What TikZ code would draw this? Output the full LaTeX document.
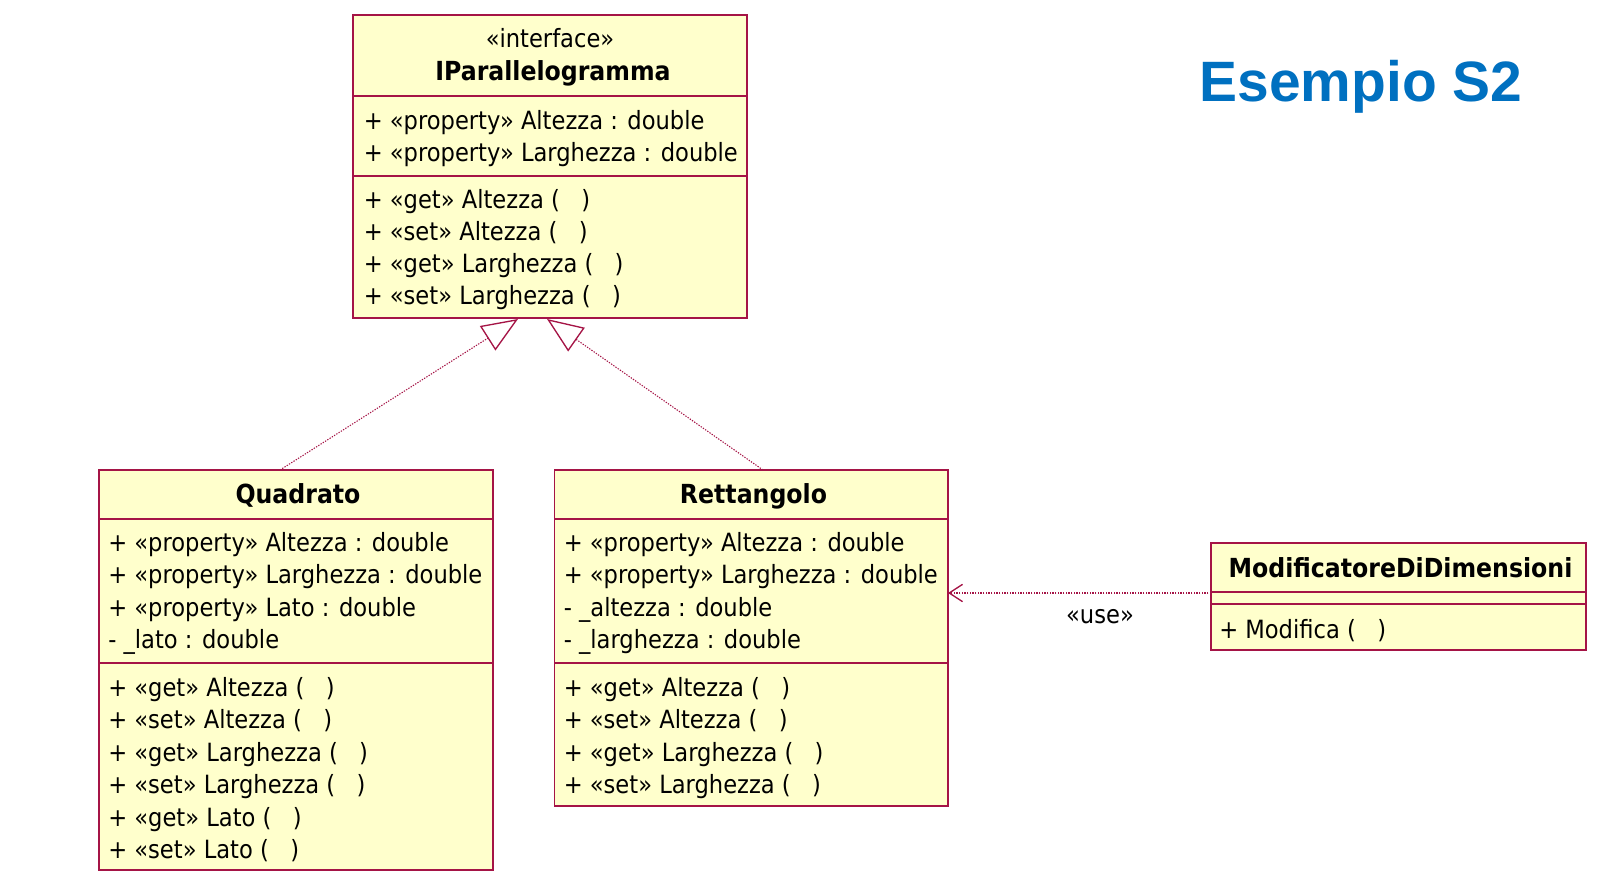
\documentclass[tikz,border=0pt]{standalone}
\usepackage{fontspec}
\setmainfont{DejaVu Sans Condensed}
\newfontfamily\titlefont{Liberation Sans}
\usetikzlibrary{arrows.meta,fit}
\definecolor{umlborder}{RGB}{165,20,70}
\definecolor{umlfill}{RGB}{255,255,204}
\definecolor{titleblue}{RGB}{0,112,192}
\newcommand{\emptyargs}{(\hspace{0.85em})}
\tikzset{
  cls/.style={draw=umlborder, fill=umlfill, line width=1.1pt, inner sep=0pt},
  sep/.style={draw=umlborder, line width=1.1pt},
  txt/.style={anchor=base west, inner sep=0pt, font=\fontsize{18.85pt}{22pt}\selectfont},
  ctxt/.style={anchor=base, inner sep=0pt, font=\fontsize{18.85pt}{22pt}\selectfont},
  btxt/.style={anchor=base, inner sep=0pt, font=\fontsize{19.7pt}{22pt}\selectfont\bfseries},
  realize/.style={draw=umlborder, line width=0.8pt, dash pattern=on 1pt off 1pt,
    -{Triangle[length=27pt,width=21.6pt,fill=white,line width=1pt,sep=0pt]}},
  usedep/.style={draw=umlborder, line width=0.8pt, dash pattern=on 1pt off 1pt,
    -{Straight Barb[length=10pt,width=13pt,line width=1pt]}},
}
\begin{document}
\begin{tikzpicture}[x=0.75pt,y=-0.75pt]
\useasboundingbox (0,0) rectangle (1598,887);

% IParallelogramma
\node[cls, fit={(353,15) (747,318)}] (ip) {};
\draw[sep] (353,96) -- (747,96);
\draw[sep] (353,176) -- (747,176);
\node[ctxt] (ipst) at (550,47.7) {«interface»};
\node[btxt] (ipname) at (553,81) {IParallelogramma};
\node[txt] (ipa1) at (363.5,129.3) {+ «property» Altezza : double};
\node[txt] (ipa2) at (363.5,161.3) {+ «property» Larghezza : double};
\node[txt] (ipm1) at (363.5,209) {+ «get» Altezza \emptyargs};
\node[txt] (ipm2) at (363.5,241) {+ «set» Altezza \emptyargs};
\node[txt] (ipm3) at (363.5,273) {+ «get» Larghezza \emptyargs};
\node[txt] (ipm4) at (363.5,305) {+ «set» Larghezza \emptyargs};

% Quadrato
\node[cls, fit={(99,470) (493,870)}] (q) {};
\draw[sep] (99,519) -- (493,519);
\draw[sep] (99,663) -- (493,663);
\node[btxt] (qname) at (298,503.3) {Quadrato};
\node[txt] (qa1) at (108,551) {+ «property» Altezza : double};
\node[txt] (qa2) at (108,583.5) {+ «property» Larghezza : double};
\node[txt] (qa3) at (108,616) {+ «property» Lato : double};
\node[txt] (qa4) at (108,648.5) {- \_lato : double};
\node[txt] (qm1) at (108,696) {+ «get» Altezza \emptyargs};
\node[txt] (qm2) at (108,728.5) {+ «set» Altezza \emptyargs};
\node[txt] (qm3) at (108,761) {+ «get» Larghezza \emptyargs};
\node[txt] (qm4) at (108,793.5) {+ «set» Larghezza \emptyargs};
\node[txt] (qm5) at (108,826) {+ «get» Lato \emptyargs};
\node[txt] (qm6) at (108,858.5) {+ «set» Lato \emptyargs};

% Rettangolo
\node[cls, fit={(554.5,470) (948,806)}] (r) {};
\draw[sep] (554.5,519) -- (948,519);
\draw[sep] (554.5,663) -- (948,663);
\node[btxt] (rname) at (753.5,503.3) {Rettangolo};
\node[txt] (ra1) at (563.5,551) {+ «property» Altezza : double};
\node[txt] (ra2) at (563.5,583.5) {+ «property» Larghezza : double};
\node[txt] (ra3) at (563.5,616) {- \_altezza : double};
\node[txt] (ra4) at (563.5,648.5) {- \_larghezza : double};
\node[txt] (rm1) at (563.5,696) {+ «get» Altezza \emptyargs};
\node[txt] (rm2) at (563.5,728.5) {+ «set» Altezza \emptyargs};
\node[txt] (rm3) at (563.5,761) {+ «get» Larghezza \emptyargs};
\node[txt] (rm4) at (563.5,793.5) {+ «set» Larghezza \emptyargs};

% ModificatoreDiDimensioni
\node[cls, fit={(1211,543) (1586,650)}] (m) {};
\draw[sep] (1211,592) -- (1586,592);
\draw[sep] (1211,604) -- (1586,604);
\node[btxt] (mname) at (1400.5,577.6) {ModificatoreDiDimensioni};
\node[txt] (mm1) at (1219,638) {+ Modifica \emptyargs};

% Title
\node[anchor=base, inner sep=0pt, text=titleblue, font=\titlefont\fontsize{42.7pt}{46pt}\selectfont\bfseries] (title) at (1361,101.5) {Esempio S2};

% connectors
\coordinate (qtop) at (280,470);
\coordinate (rtop) at (763,470);
\coordinate (ipL) at (518,319);
\coordinate (ipR) at (547,319);
\coordinate (mL) at (1211,593);
\coordinate (rR) at (948,593);
\draw[realize] (qtop) -- (ipL);
\draw[realize] (rtop) -- (ipR);
\draw[usedep] (mL) -- (rR);
\node[ctxt] (uselbl) at (1100,623) {«use»};
\end{tikzpicture}
\end{document}
